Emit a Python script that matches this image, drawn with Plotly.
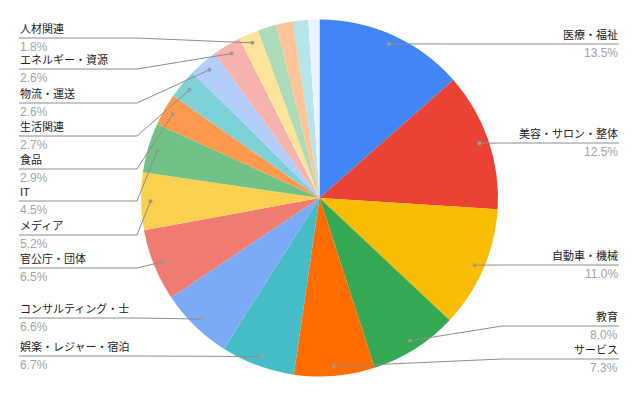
import math
import plotly.graph_objects as go

# ---- data ----
labels = ["医療・福祉", "美容・サロン・整体", "自動車・機械", "教育", "サービス",
          "娯楽・レジャー・宿泊", "コンサルティング・士", "官公庁・団体", "メディア", "IT",
          "食品", "生活関連", "物流・運送", "エネルギー・資源", "人材関連",
          "その他A", "その他B", "その他C", "その他D"]
values = [13.5, 12.5, 11.0, 8.0, 7.3, 6.7, 6.6, 6.5, 5.2, 4.5,
          2.9, 2.7, 2.6, 2.6, 1.8, 1.7, 1.5, 1.4, 1.0]
n_labeled = 15

# ---- style / layout ----
colors = ["#4285f4", "#ea4335", "#fbbc04", "#34a853", "#ff6d01", "#46bdc6",
          "#7baaf7", "#f07b72", "#fcd04f", "#71c287", "#ff994d", "#7ed1d7",
          "#b3cefb", "#f7b4ae", "#fde49b", "#aedcba", "#ffc599", "#b5e5e8",
          "#ecf3fe"]
W, H = 640, 396
CX, CY, R = 319.5, 198, 178.5
DOT_R = 0.947 * R
# label underline y positions (pixels) and side
label_side = ["r", "r", "r", "r", "r", "l", "l", "l", "l", "l",
              "l", "l", "l", "l", "l"]
label_uy = [44, 143, 265, 326, 359, 356, 318, 268, 235, 201,
            169, 136, 103, 69, 38]
LEFT_X, LEFT_ELBOW = 19, 137
RIGHT_X, RIGHT_ELBOW = 619, 502
LINE_COLOR = "#8c8c8c"
NAME_COLOR = "#222222"
PCT_COLOR = "#a3a3a3"
FONT = "Arial, 'Liberation Sans', 'Noto Sans CJK JP', sans-serif"


def px(x):
    return x / W


def py(y):
    return 1 - y / H


fig = go.Figure(go.Pie(
    labels=labels, values=values, sort=False, direction="clockwise",
    rotation=0, textinfo="none", hoverinfo="label+percent",
    marker=dict(colors=colors, line=dict(width=0)),
    domain=dict(x=[(CX - R) / W, (CX + R) / W], y=[1 - (CY + R) / H, 1 - (CY - R) / H]),
    showlegend=False,
))

total = sum(values)
shapes = []
annotations = []
cum = 0.0
for i, v in enumerate(values):
    mid = (cum + v / 2) / total * 2 * math.pi
    cum += v
    if i >= n_labeled:
        continue
    dx = CX + DOT_R * math.sin(mid)
    dy = CY - DOT_R * math.cos(mid)
    uy = label_uy[i]
    if label_side[i] == "l":
        x0, xe, anchor = LEFT_X, LEFT_ELBOW, "left"
    else:
        x0, xe, anchor = RIGHT_X, RIGHT_ELBOW, "right"
    path = f"M {px(x0)},{py(uy)} L {px(xe)},{py(uy)} L {px(dx)},{py(dy)}"
    shapes.append(dict(type="path", path=path, xref="paper", yref="paper",
                       line=dict(color=LINE_COLOR, width=1), layer="above"))
    rr = 2.0
    shapes.append(dict(type="circle", xref="paper", yref="paper",
                       x0=px(dx - rr), x1=px(dx + rr), y0=py(dy + rr), y1=py(dy - rr),
                       fillcolor="#9a9a9a", line=dict(width=0), layer="above"))
    annotations.append(dict(x=px(x0), y=py(uy - 9.5), xref="paper", yref="paper",
                            text=labels[i], showarrow=False, xanchor=anchor,
                            yanchor="middle", borderpad=0,
                            font=dict(family=FONT, size=11, color=NAME_COLOR)))
    annotations.append(dict(x=px(x0), y=py(uy + 9), xref="paper", yref="paper",
                            text=f"{v:.1f}%", showarrow=False, xanchor=anchor,
                            yanchor="middle", borderpad=0,
                            font=dict(family=FONT, size=12, color=PCT_COLOR)))

fig.update_layout(
    width=W, height=H, margin=dict(l=0, r=0, t=0, b=0),
    paper_bgcolor="white", plot_bgcolor="white",
    shapes=shapes, annotations=annotations,
)
fig.write_html("out.html", config={"displayModeBar": False},
               post_script="document.body.style.margin='0';document.body.style.overflow='hidden';")
